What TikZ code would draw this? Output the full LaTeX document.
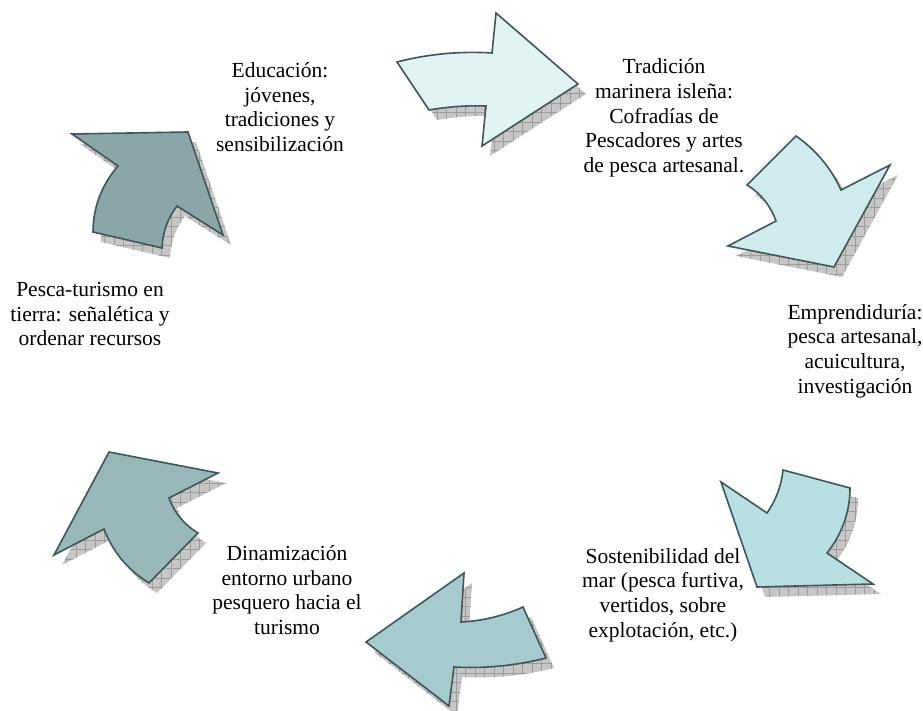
\documentclass[tikz,border=0pt]{standalone}
\usepackage{fontspec}
\setmainfont{Liberation Serif}
\usetikzlibrary{patterns.meta}
\definecolor{cA}{HTML}{E1F3F3}
\definecolor{cB}{HTML}{D0EBEE}
\definecolor{cC}{HTML}{B8E0E3}
\definecolor{cD}{HTML}{A6CBCE}
\definecolor{cE}{HTML}{98B7B8}
\definecolor{cF}{HTML}{8AA6A8}
\definecolor{edgecol}{HTML}{3F5758}
\definecolor{shadowgray}{HTML}{C6C6C6}
\definecolor{gridgray}{HTML}{9C9C9C}
\tikzset{
  arrowshape/.style={draw=edgecol, line width=1.6pt, line join=miter},
  shadowbase/.style={fill=shadowgray},
  shadowgrid/.style={pattern={Hatch[angle=0,distance=9.5pt,line width=0.6pt]}, pattern color=gridgray},
  lbl/.style={align=center, font=\fontsize{21.5}{24.7}\selectfont, inner sep=0pt}
}
\newcommand\rsarrow[2]{%
  \fill[shadowbase, shift={(8,10)}] #2;
  \fill[shadowgrid, shift={(8,10)}] #2;
  \filldraw[arrowshape, fill=#1] #2;
}
\begin{document}
\begin{tikzpicture}[x=1pt,y=-1pt]
\useasboundingbox (0,0) rectangle (923,711);
\fill[white] (0,0) rectangle (923,711);
% arrows
\rsarrow{cA}{(397,62) .. controls (428,54) and (460,51) .. (492,53) -- (496,13) -- (578,84) -- (482,146) -- (486,106) .. controls (467,105.3) and (448,106.7) .. (429,110) -- cycle}
\rsarrow{cB}{(796,136) .. controls (816,150) and (831,168) .. (841,190) -- (890,165) -- (834,267) -- (728,246) -- (776,221) .. controls (770.5,205.6) and (761,193.6) .. (747,185) -- cycle}
\rsarrow{cC}{(850,488) .. controls (850,512) and (842,534) .. (827,553) -- (873,584) -- (757,587) -- (721,482) -- (767,513) .. controls (776,500) and (781.4,485.7) .. (783,470) -- cycle}
\rsarrow{cD}{(464,573) -- (461,622) .. controls (482.6,620.9) and (503.2,615.9) .. (523,607) -- (546,658) .. controls (515.8,665.7) and (485.2,668.7) .. (454,667) -- (449,706) -- (366,642) -- cycle}
\rsarrow{cE}{(109,452) -- (218,473) -- (169,498) .. controls (174.6,513.1) and (184.2,524.7) .. (198,533) -- (149,583) .. controls (127.9,570.1) and (112.9,552.1) .. (104,529) -- (54,555) -- cycle}
\rsarrow{cF}{(188,132) -- (223,235) -- (177,206) .. controls (167.6,218.4) and (162.6,232.4) .. (162,248) -- (93,232) .. controls (93.2,206.9) and (101.6,184.9) .. (118,166) -- (72,134) -- cycle}
% labels
\node[lbl] (edu) at (280,107) {Educación:\\jóvenes,\\tradiciones y\\sensibilización};
\node[lbl] (trad) at (664,118) {Tradición\\marinera isleña:\\Cofradías de\\Pescadores y artes\\de pesca artesanal.};
\node[lbl] (emp) at (855,351) {Emprendiduría:\\pesca artesanal,\\acuicultura,\\investigación};
\node[lbl] (sost) at (663,595) {Sostenibilidad del\\mar (pesca furtiva,\\vertidos, sobre\\explotación, etc.)};
\node[lbl] (din) at (287,590) {Dinamización\\entorno urbano\\pesquero hacia el\\turismo};
\node[lbl] (pesc) at (90,314) {Pesca-turismo en\\tierra: señalética y\\ordenar recursos};
\end{tikzpicture}
\end{document}
